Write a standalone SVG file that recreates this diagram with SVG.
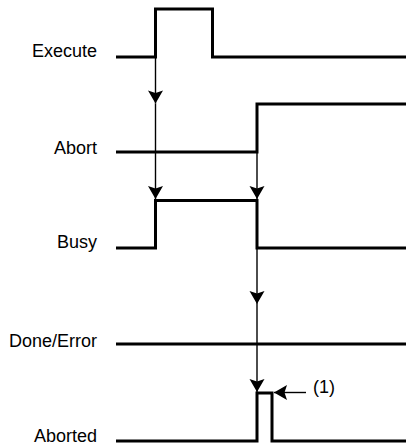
<svg xmlns="http://www.w3.org/2000/svg" width="406" height="446" viewBox="0 0 406 446">
  <style>
    .sig { fill: none; stroke: #000; stroke-width: 3; stroke-linejoin: miter; }
    .con { fill: none; stroke: #000; stroke-width: 1.4; marker-end: url(#ah); }
    .lbl { font-family: "Liberation Sans", Arial, sans-serif; font-size: 18px; fill: #000; text-anchor: end; }
    .note { font-family: "Liberation Sans", Arial, sans-serif; font-size: 18px; fill: #000; }
  </style>
  <defs>
    <marker id="ah" viewBox="-14 -8 15 16" refX="0" refY="0" markerWidth="15" markerHeight="16" markerUnits="userSpaceOnUse" orient="auto">
      <path d="M0,0 L-13,-7.5 L-10.5,0 L-13,7.5 Z" fill="#000"/>
    </marker>
  </defs>
  <rect width="406" height="446" fill="#fff"/>

  <g id="execute">
    <text class="lbl" x="97" y="57">Execute</text>
    <path class="sig" d="M116,57 H155.5 V9 H212.5 V57 H406"/>
  </g>
  <g id="abort">
    <text class="lbl" x="97" y="154">Abort</text>
    <path class="sig" d="M116,152 H257 V104 H406"/>
  </g>
  <g id="busy">
    <text class="lbl" x="97" y="248">Busy</text>
    <path class="sig" d="M116,248 H155.5 V200.5 H257 V248 H406"/>
  </g>
  <g id="done-error">
    <text class="lbl" x="97" y="347">Done/Error</text>
    <path class="sig" d="M116,344 H406"/>
  </g>
  <g id="aborted">
    <text class="lbl" x="97" y="442">Aborted</text>
    <path class="sig" d="M116,441 H257 V393 H272 V441 H406"/>
  </g>
  <g id="note">
    <text class="note" x="313" y="393">(1)</text>
  </g>

  <g id="connectors">
    <line class="con" x1="155.5" y1="58" x2="155.5" y2="103.5"/>
    <line class="con" x1="155.5" y1="103.5" x2="155.5" y2="199"/>
    <line class="con" x1="257" y1="153" x2="257" y2="199"/>
    <line class="con" x1="257" y1="199" x2="257" y2="304"/>
    <line class="con" x1="257" y1="304" x2="257" y2="392"/>
    <line class="con" x1="306" y1="392.5" x2="274" y2="392.5"/>
  </g>
</svg>
